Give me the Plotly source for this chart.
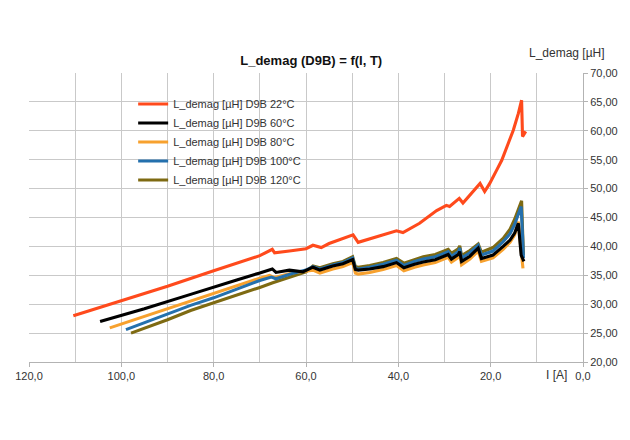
import plotly.graph_objects as go

# ---------------- data ----------------
I_22 = [110.4, 100.0, 90.0, 80.0, 70.0, 67.3, 66.8, 63.6, 60.0, 58.5, 56.7, 55.0, 52.0,
        49.8, 48.7, 44.8, 40.4, 39.0, 35.4, 31.7, 29.6, 28.9, 26.8, 26.0, 23.4, 22.3,
        21.3, 20.2, 18.7, 17.6, 16.2, 15.1, 14.0, 13.3, 13.1, 12.4]
L_22 = [28.0, 30.6, 33.1, 35.8, 38.4, 39.5, 38.9, 39.2, 39.6, 40.2, 39.8, 40.5, 41.3,
        42.0, 40.7, 41.7, 42.7, 42.4, 44.0, 46.2, 47.1, 46.9, 48.3, 47.5, 49.8, 50.9,
        49.5, 50.9, 53.2, 54.9, 57.8, 60.1, 63.0, 65.3, 59.0, 59.9]

I_60 = [104.6, 95.0, 85.0, 80.0, 75.0, 70.0, 67.3, 66.5, 63.6, 60.7, 58.5, 57.0, 54.2,
        52.0, 49.9, 49.3, 48.7, 46.2, 43.3, 40.4, 38.8, 36.5, 34.6, 32.0, 31.0, 29.2,
        28.5, 27.0, 26.7, 26.3, 24.5, 22.7, 22.0, 19.5, 17.3, 15.8, 14.8, 14.0, 13.4, 12.8]
L_60 = [27.0, 29.2, 31.7, 33.0, 34.2, 35.4, 36.1, 35.5, 35.9, 35.6, 36.4, 35.9, 36.6,
        37.0, 37.7, 36.0, 35.9, 36.1, 36.5, 37.2, 36.3, 36.9, 37.3, 37.7, 38.0, 38.6,
        37.8, 38.6, 39.1, 37.4, 38.3, 39.7, 37.9, 38.5, 40.0, 41.1, 42.3, 44.0, 38.5, 37.4]

I_80 = [102.5, 95.0, 85.0, 80.0, 75.0, 70.0, 67.9, 66.8, 63.0, 60.0, 58.5, 57.0, 54.2,
        52.0, 49.9, 49.3, 48.7, 46.2, 43.3, 40.4, 38.8, 36.5, 34.6, 32.0, 31.0, 29.2,
        28.5, 27.0, 26.7, 26.3, 24.5, 22.7, 22.0, 19.5, 17.3, 15.8, 14.8, 14.0, 13.5, 13.0]
L_80 = [25.9, 27.9, 30.6, 31.9, 33.2, 34.5, 35.0, 34.6, 35.4, 35.8, 35.9, 35.4, 36.1,
        36.5, 37.2, 35.4, 35.2, 35.5, 36.0, 36.7, 35.8, 36.4, 36.8, 37.2, 37.5, 38.1,
        37.3, 38.1, 38.6, 36.8, 37.8, 39.2, 37.4, 38.0, 39.5, 40.7, 42.0, 44.3, 40.0, 36.2]

I_100 = [99.0, 90.0, 85.0, 80.0, 75.0, 70.0, 67.5, 66.5, 63.0, 60.0, 58.5, 57.0, 54.2,
         52.0, 49.9, 49.3, 48.7, 46.2, 43.3, 40.4, 38.8, 36.5, 34.6, 32.0, 31.0, 29.2,
         28.5, 27.0, 26.7, 26.3, 24.5, 22.7, 22.0, 19.5, 17.3, 15.8, 14.8, 13.4, 13.1, 12.9]
L_100 = [25.6, 28.3, 29.8, 31.1, 32.6, 34.1, 34.7, 34.4, 35.3, 35.9, 36.5, 36.1, 36.8,
         37.2, 38.0, 36.2, 36.1, 36.4, 36.9, 37.6, 36.7, 37.4, 37.8, 38.2, 38.5, 39.1,
         38.3, 39.1, 39.7, 38.0, 38.9, 40.2, 38.5, 39.2, 40.8, 42.2, 43.8, 46.9, 42.0, 38.0]

I_120 = [97.9, 90.0, 85.0, 80.0, 75.0, 70.0, 67.2, 65.0, 62.0, 60.0, 58.5, 57.0, 54.2,
         52.0, 49.9, 49.3, 48.7, 46.2, 43.3, 40.4, 38.8, 36.5, 34.6, 32.0, 31.0, 29.2,
         28.5, 27.0, 26.7, 26.3, 24.5, 22.7, 22.0, 19.5, 17.3, 15.8, 14.8, 13.3, 13.1, 12.9]
L_120 = [25.0, 27.3, 28.9, 30.2, 31.6, 32.9, 33.7, 34.3, 35.1, 35.6, 36.6, 36.3, 37.0,
         37.4, 38.2, 36.5, 36.4, 36.7, 37.2, 37.9, 37.1, 37.7, 38.2, 38.6, 38.9, 39.5,
         38.8, 39.6, 40.1, 38.4, 39.3, 40.4, 39.0, 39.8, 41.4, 43.0, 44.7, 47.9, 43.0, 38.5]

NAMES = ["L_demag [µH] D9B 22°C", "L_demag [µH] D9B 60°C", "L_demag [µH] D9B 80°C",
         "L_demag [µH] D9B 100°C", "L_demag [µH] D9B 120°C"]
X_TICKS = [120, 100, 80, 60, 40, 20, 0]
Y_TICKS = [20, 25, 30, 35, 40, 45, 50, 55, 60, 65, 70]

# ---------------- styling ----------------
COLORS = {"22": "#ff4a1c", "60": "#000000", "80": "#f7a12e", "100": "#2470ad", "120": "#7e6a12"}
FONT = "Liberation Sans, Arial, sans-serif"

fig = go.Figure()
# drawing order: red, olive, orange, blue, black (black on top); legend order via legendrank
series = [
    (I_22, L_22, NAMES[0], COLORS["22"], 1),
    (I_120, L_120, NAMES[4], COLORS["120"], 5),
    (I_80, L_80, NAMES[2], COLORS["80"], 3),
    (I_100, L_100, NAMES[3], COLORS["100"], 4),
    (I_60, L_60, NAMES[1], COLORS["60"], 2),
]
for xs, ys, name, col, rank in series:
    fig.add_trace(go.Scatter(x=xs, y=ys, mode="lines", name=name,
                             line=dict(color=col, width=3.1), legendrank=rank))

grid = "#c9c9c9"
fig.update_layout(
    width=630, height=440,
    margin=dict(l=29, r=47, t=73, b=78),
    paper_bgcolor="white", plot_bgcolor="white",
    separators=",.",
    font=dict(family=FONT, size=11, color="#333333"),
    title=dict(text="<b>L_demag (D9B) = f(I, T)</b>", x=0.494, xanchor="center",
               y=1 - 60 / 440, yanchor="middle",
               font=dict(family=FONT, size=13, color="#111111")),
    showlegend=True,
    legend=dict(x=0.188, y=0.943, xanchor="left", yanchor="top",
                bgcolor="rgba(0,0,0,0)", borderwidth=0,
                font=dict(family=FONT, size=11, color="#333333"),
                traceorder="normal"),
    xaxis=dict(range=[120, 0], tickvals=X_TICKS, tickformat=".1f",
               showgrid=True, gridcolor=grid, gridwidth=1,
               minor=dict(dtick=10, showgrid=True, gridcolor=grid, gridwidth=1),
               showline=True, linecolor="#b3b3b3", linewidth=1,
               ticks="outside", ticklen=4, tickcolor="#b3b3b3",
               zeroline=False, automargin=False,
               tickfont=dict(family=FONT, size=11, color="#333333")),
    yaxis=dict(range=[20, 70], tickvals=Y_TICKS, tickformat=".2f", side="right",
               showgrid=True, gridcolor=grid, gridwidth=1,
               showline=True, linecolor="#b3b3b3", linewidth=1,
               ticks="outside", ticklen=4, tickcolor="#b3b3b3",
               zeroline=False, automargin=False,
               tickfont=dict(family=FONT, size=11, color="#333333")),
    annotations=[
        dict(text="L_demag [µH]", xref="paper", yref="paper",
             x=(567 - 29) / 554, y=(362 - 53) / 289, xanchor="center", yanchor="middle",
             showarrow=False, font=dict(family=FONT, size=12, color="#333333")),
        dict(text="I [A]", xref="paper", yref="paper",
             x=(556 - 29) / 554, y=(362 - 375) / 289, xanchor="center", yanchor="middle",
             showarrow=False, font=dict(family=FONT, size=12, color="#333333")),
    ],
)

fig.write_html("out.html")
